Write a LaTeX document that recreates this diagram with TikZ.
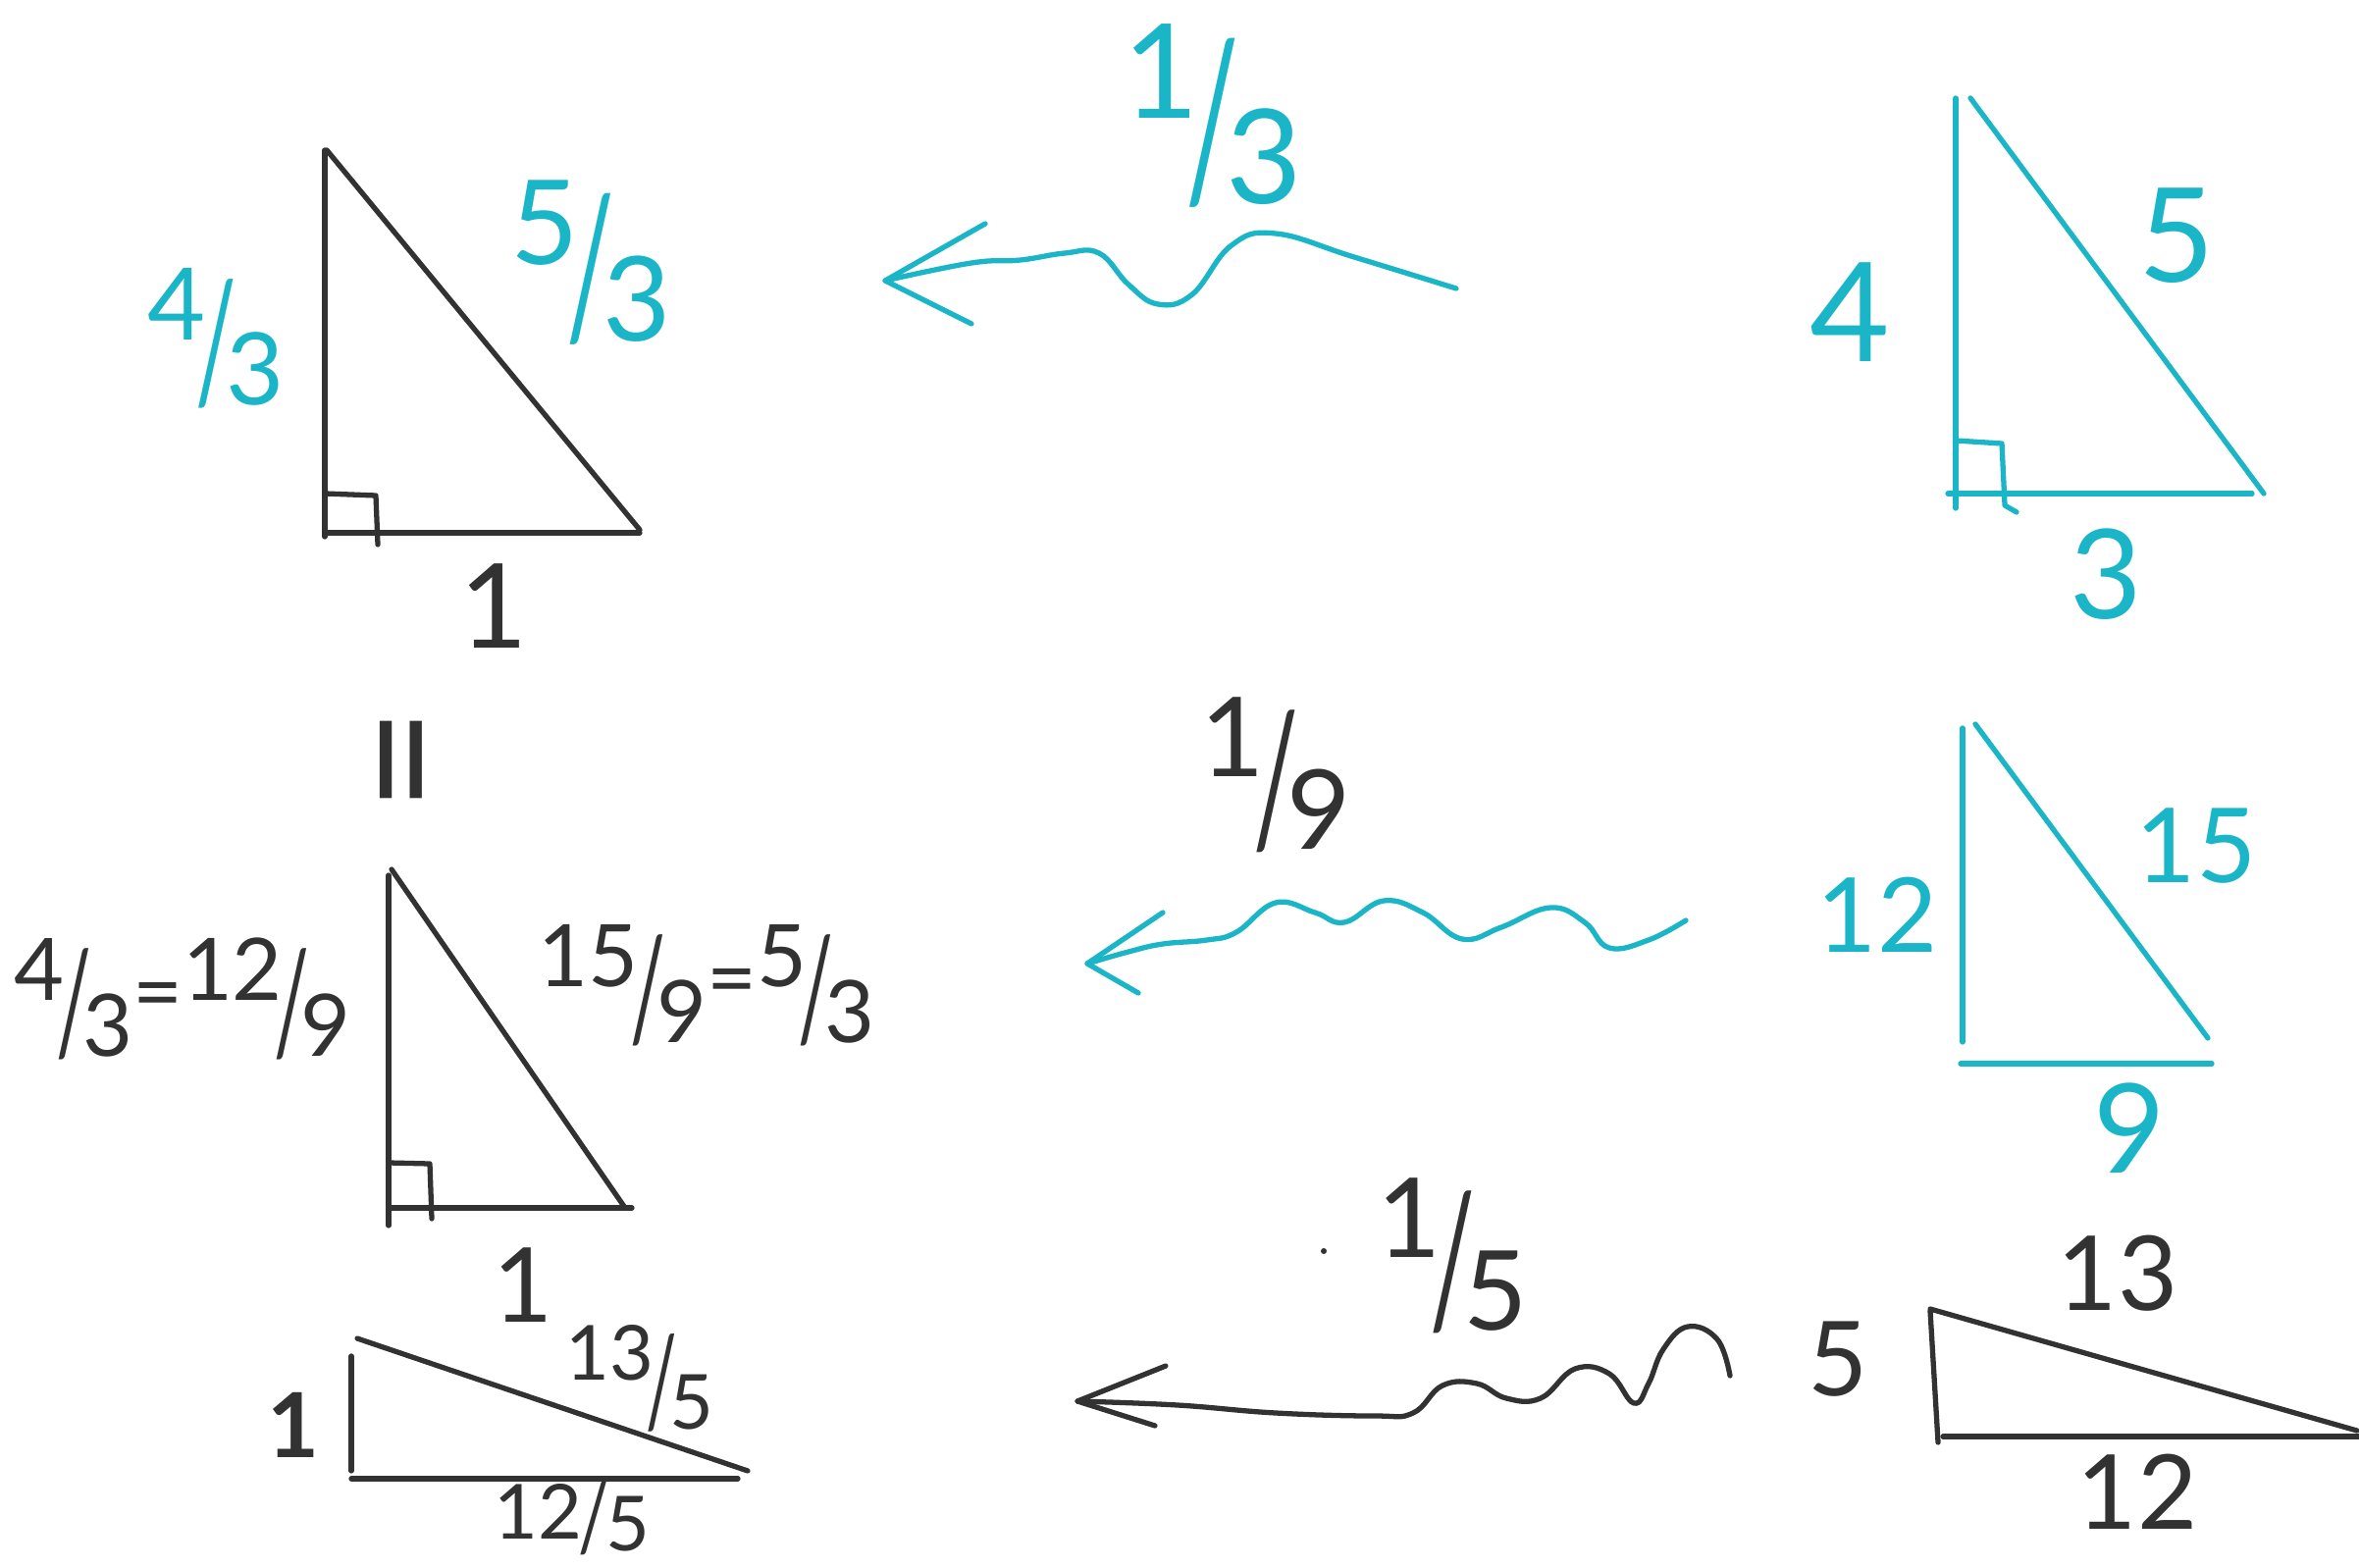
\documentclass[tikz,border=0pt]{standalone}
\usepackage{fontspec}
\setmainfont{Lato}
\definecolor{pen}{RGB}{27,181,200}
\definecolor{ink}{RGB}{50,50,50}
\newcommand\hf[2]{\raisebox{.25em}{#1}\kern-.1em\raisebox{-.36em}{\scalebox{0.9}[1.65]{/}}\kern-.1em\raisebox{-.4em}{#2}}
\newcommand\lf[2]{#1\kern-.05em\raisebox{-.15em}{\scalebox{0.9}[1.25]{/}}\kern-.05em\raisebox{-.15em}{#2}}
\tikzset{
  cy/.style={draw=pen,line width=1.5pt,line cap=round,line join=round},
  bk/.style={draw=ink,line width=1.5pt,line cap=round,line join=round},
  lc/.style={text=pen,inner sep=0pt},
  lk/.style={text=ink,inner sep=0pt},
  big/.style={font=\fontsize{40}{40}\selectfont},
  mid/.style={font=\fontsize{30}{30}\selectfont},
  frc/.style={font=\fontsize{25}{25}\selectfont},
  frl/.style={font=\fontsize{32}{32}\selectfont},
}
\begin{document}
\begin{tikzpicture}[x=0.01cm,y=-0.01cm]
\useasboundingbox (0,0) rectangle (2404,1598);
\fill[white] (0,0) rectangle (2404,1598);

% ---------- top-left triangle (black) ----------
\draw[bk] (331,153) -- (331,547);
\draw[bk] (331,543) -- (652,543);
\draw[bk] (333,153) -- (652,540);
\draw[bk] (331,503) -- (383,505) -- (385,555);
\node[lc,font=\fontsize{29}{29}\selectfont] (tl4) at (220,345) {\hf{4}{3}};
\node[lc,font=\fontsize{34}{34}\selectfont] (tl5) at (602,268) {\hf{5}{3}};
\node[lk,font=\fontsize{34}{34}\selectfont] (tl1) at (503,618) {1};
\node[lk,font=\fontsize{52}{52}\selectfont,rotate=90] (eq) at (429,774) {=};

% ---------- top arrow (cyan) ----------
\coordinate (a1s) at (1484,294);
\coordinate (a1t) at (902,286);
\draw[cy] plot[smooth,tension=0.7] coordinates {(a1s) (1380,262) (1300,238) (1255,250) (1215,300) (1180,310) (1150,290) (1120,258) (1085,258) (1040,265) (990,268) (a1t)};
\draw[cy] (1004,228) -- (a1t) -- (990,330);
\node[lc,font=\fontsize{38}{38}\selectfont] (l13) at (1236,118) {\hf{1}{3}};

% ---------- top-right triangle (cyan) ----------
\draw[cy] (1993,100) -- (1993,518);
\draw[cy] (2008,100) -- (2307,503);
\draw[cy] (1985,503) -- (2295,503);
\draw[cy] (1993,449) -- (2040,452) -- (2043,515) -- (2055,522);
\node[lc,big] (tr4) at (1885,318) {4};
\node[lc,font=\fontsize{38}{38}\selectfont] (tr5) at (2218,240) {5};
\node[lc,font=\fontsize{36}{36}\selectfont] (tr3) at (2146,585) {3};

% ---------- middle-left triangle (black) ----------
\draw[bk] (396,892) -- (396,1249);
\draw[bk] (399,886) -- (637,1231);
\draw[bk] (396,1231) -- (644,1231);
\draw[bk] (396,1185) -- (438,1186) -- (440,1242);
\node[lk,frc] (ml1) at (186,1018) {\hf{4}{3}=\hf{12}{9}};
\node[lk,frc] (ml2) at (720,1004) {\hf{15}{9}=\hf{5}{3}};
\node[lk,mid] (ml3) at (533,1310) {1};

% ---------- middle arrow (cyan) ----------
\coordinate (a2s) at (1718,938);
\coordinate (a2t) at (1108,982);
\draw[cy] plot[smooth,tension=0.7] coordinates {(a2s) (1680,958) (1640,966) (1615,940) (1580,925) (1530,945) (1490,957) (1450,930) (1410,918) (1370,940) (1340,930) (1300,920) (1260,950) (1230,958) (1185,962) (1150,970) (a2t)};
\draw[cy] (1185,930) -- (a2t) -- (1160,1012);
\node[lk,frl] (l19) at (1300,790) {\hf{1}{9}};

% ---------- middle-right triangle (cyan) ----------
\draw[cy] (2000,742) -- (2000,1062);
\draw[cy] (2013,738) -- (2250,1058);
\draw[cy] (1998,1084) -- (2254,1084);
\node[lc,mid] (mr15) at (2238,862) {15};
\node[lc,mid] (mr12) at (1913,932) {12};
\node[lc,font=\fontsize{36}{36}\selectfont] (mr9) at (2170,1150) {9};

% ---------- bottom-left triangle (black) ----------
\draw[bk] (358,1382) -- (358,1499);
\draw[bk] (364,1364) -- (762,1499);
\draw[bk] (358,1507) -- (752,1507);
\node[lk,font=\bfseries\fontsize{26}{26}\selectfont] (bl1) at (299,1452) {1};
\node[lk,font=\fontsize{22}{22}\selectfont] (bl2) at (652,1405) {\hf{13}{5}};
\node[lk,font=\fontsize{22}{22}\selectfont] (bl3) at (583,1547) {\lf{12}{5}};

% ---------- bottom arrow (black) ----------
\coordinate (a3s) at (1763,1402);
\coordinate (a3t) at (1098,1428);
\draw[bk] plot[smooth,tension=0.7] coordinates {(a3s) (1750,1365) (1720,1352) (1695,1375) (1680,1410) (1665,1430) (1640,1400) (1605,1395) (1570,1425) (1535,1425) (1505,1410) (1470,1412) (1440,1440) (1400,1443) (1300,1440) (1200,1432) (a3t)};
\draw[bk] (1188,1392) -- (a3t) -- (1177,1453);
\fill[ink] (1349,1275) circle (3);
\node[lk,frl] (l15) at (1480,1280) {\hf{1}{5}};

% ---------- bottom-right triangle (black) ----------
\draw[bk] (1967,1336) -- (1975,1470);
\draw[bk] (1967,1334) -- (2402,1458);
\draw[bk] (1980,1464) -- (2404,1464);
\node[lk,mid] (br5) at (1873,1385) {5};
\node[lk,mid] (br13) at (2158,1298) {13};
\node[lk,mid] (br12) at (2178,1520) {12};
\end{tikzpicture}
\end{document}
